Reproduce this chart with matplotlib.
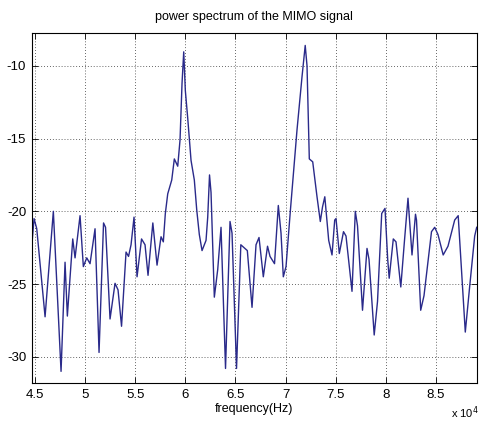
import matplotlib
matplotlib.use("Agg")
import matplotlib.pyplot as plt
from matplotlib.ticker import FuncFormatter, FixedLocator

title = "power spectrum of the MIMO signal"
xlabel = "frequency(Hz)"

freq_hz = [44671, 44900, 45170, 46000, 46826, 47595, 47994, 48224, 48762, 48992,
           49491, 49820, 50160, 50489, 50988, 51387, 51836, 52036, 52485, 52984,
           53283, 53633, 54082, 54331, 54581, 54880, 55180, 55629, 55978, 56277,
           56756, 57176, 57575, 57804, 58004, 58243, 58643, 58902, 59241, 59471,
           59671, 59840, 60000, 60239, 60569, 60898, 61138, 61397, 61667, 62066,
           62235, 62415, 62565, 62734, 62894, 63233, 63563, 64012, 64461, 64661,
           65110, 65539, 66188, 66657, 67056, 67355, 67784, 68204, 68453, 68902,
           69281, 69551, 69780, 70050, 70479, 71148, 71647, 71966, 72146, 72375,
           72715, 73144, 73473, 73693, 73922, 74311, 74641, 74910, 75040, 75369,
           75788, 76038, 76637, 76966, 77186, 77685, 78134, 78333, 78852, 79182,
           79601, 79930, 80199, 80349, 80758, 81028, 81507, 81876, 82225, 82625,
           82974, 83074, 83493, 83822, 84571, 84891, 85219, 85738, 86217, 86886,
           87235, 87944, 88363, 88882, 89082]

power_db = [-22.4, -20.5, -21.2, -27.25, -20.0, -31.0, -23.5, -27.2, -21.9, -23.2,
            -20.3, -23.8, -23.2, -23.6, -21.2, -29.7, -20.8, -21.1, -27.4, -24.95,
            -25.4, -27.9, -22.8, -23.1, -22.3, -20.4, -24.5, -21.9, -22.3, -24.4,
            -20.8, -23.7, -21.75, -22.1, -20.15, -18.8, -17.85, -16.4, -16.9, -15.1,
            -11.2, -9.04, -11.7, -13.6, -16.5, -17.85, -19.9, -21.6, -22.7, -22.0,
            -20.4, -17.5, -18.7, -22.4, -25.9, -24.0, -21.1, -30.8, -20.7, -21.5,
            -30.8, -22.3, -22.7, -26.6, -22.3, -21.8, -24.5, -22.4, -23.1, -23.6,
            -19.6, -21.5, -24.5, -23.8, -20.0, -14.4, -10.75, -8.6, -10.0, -16.4,
            -16.6, -19.0, -20.7, -19.7, -19.0, -22.0, -23.0, -20.6, -20.5, -22.9,
            -21.4, -21.7, -25.5, -20.0, -21.0, -26.8, -22.55, -23.3, -28.5, -26.2,
            -20.15, -19.8, -23.3, -24.6, -21.9, -22.1, -25.2, -22.0, -19.1, -23.0,
            -20.2, -20.6, -26.8, -25.8, -21.4, -21.1, -21.6, -23.0, -22.4, -20.6,
            -20.3, -28.3, -25.3, -21.7, -21.1]

xticks = [45000, 50000, 55000, 60000, 65000, 70000, 75000, 80000, 85000]
yticks = [-30, -25, -20, -15, -10]

plt.rcParams['font.family'] = ['Liberation Sans', 'DejaVu Sans']

fig = plt.figure(figsize=(4.81, 4.24), dpi=100)
fig.patch.set_facecolor('white')
ax = fig.add_axes([0.066, 0.0967, 0.925, 0.826])

ax.plot(freq_hz, power_db, color='#2a2a8a', lw=1.0)

ax.set_xlim(44670, 89080)
ax.set_ylim(-31.8, -7.73)
ax.xaxis.set_major_locator(FixedLocator(xticks))
ax.yaxis.set_major_locator(FixedLocator(yticks))
ax.xaxis.set_major_formatter(FuncFormatter(lambda v, p: f"{v/1e4:g}"))
ax.yaxis.set_major_formatter(FuncFormatter(lambda v, p: f"{v:g}"))

ax.grid(True, color='#333333', linestyle=(0, (1, 2.5)), linewidth=0.6)
ax.tick_params(direction='in', top=True, right=True, length=4, width=0.6,
               labelsize=9.5, pad=4, colors='black')
for s in ax.spines.values():
    s.set_linewidth(0.8)
    s.set_color('black')

ax.set_title(title, fontsize=9, pad=9)
ax.set_xlabel(xlabel, fontsize=9, labelpad=2)
fig.text(0.995, 0.008, r"x 10$^{4}$", fontsize=8, ha='right', va='bottom')

fig.savefig("out.png", dpi=100, facecolor='white')
